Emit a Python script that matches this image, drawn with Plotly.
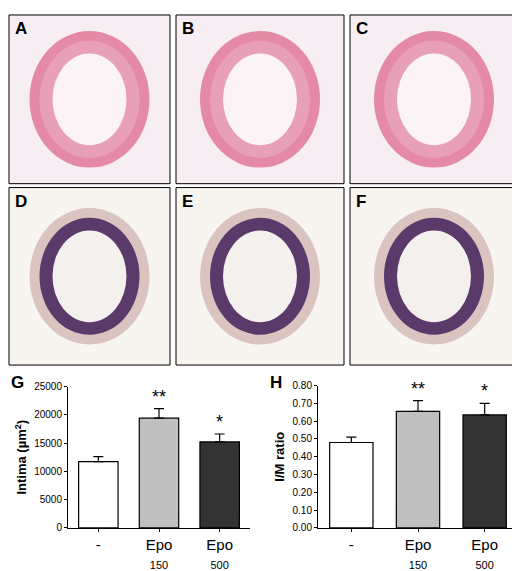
import plotly.graph_objects as go

# the browser page adds an 8px body margin, so draw into a slightly smaller figure
OFF = 8
W, H = 520 - OFF, 571 - OFF

groups = ["-", "Epo 150", "Epo 500"]
tick_labels = ["-", "Epo<br><span style='font-size:11px'>150</span>",
               "Epo<br><span style='font-size:11px'>500</span>"]
intima = [11700, 19400, 15200]
intima_err = [900, 1700, 1400]
im_ratio = [0.48, 0.655, 0.635]
im_err = [0.03, 0.06, 0.065]
stars = ["", "**", "*"]
colors = ["white", "#c0c0c0", "#333333"]

panels = ["A", "B", "C", "D", "E", "F"]


def px(x):
    return (x - OFF) / W


def py(y):
    return 1 - (y - OFF) / H


fig = go.Figure()

fig.add_trace(go.Bar(
    x=groups, y=intima, marker=dict(color=colors, line=dict(color="black", width=1.2)),
    width=0.65, error_y=dict(type="data", symmetric=False, array=intima_err,
                             arrayminus=[0, 0, 0], color="black", thickness=1.2, width=5),
    xaxis="x", yaxis="y", showlegend=False))
fig.add_trace(go.Bar(
    x=groups, y=im_ratio, marker=dict(color=colors, line=dict(color="black", width=1.2)),
    width=0.65, error_y=dict(type="data", symmetric=False, array=im_err,
                             arrayminus=[0, 0, 0], color="black", thickness=1.2, width=5),
    xaxis="x2", yaxis="y2", showlegend=False))

for g, v, e, s in zip(groups, intima, intima_err, stars):
    if s:
        fig.add_annotation(x=g, y=v + e, text=s, showarrow=False, yanchor="bottom",
                           xref="x", yref="y", font=dict(size=18, color="black"))
for g, v, e, s in zip(groups, im_ratio, im_err, stars):
    if s:
        fig.add_annotation(x=g, y=v + e, text=s, showarrow=False, yanchor="bottom",
                           xref="x2", yref="y2", font=dict(size=18, color="black"))

axis_common = dict(showgrid=False, zeroline=False, showline=True, linecolor="black",
                   ticks="outside", ticklen=3, tickcolor="black")
fig.update_layout(
    width=W, height=H, margin=dict(l=0, r=0, t=0, b=0),
    plot_bgcolor="white", paper_bgcolor="white",
    font=dict(family="Arial, Liberation Sans", color="black"),
    xaxis=dict(domain=[px(68), px(250)], anchor="y", tickvals=groups, ticktext=tick_labels,
               tickfont=dict(size=15), **axis_common),
    yaxis=dict(domain=[py(535), py(390)], anchor="x", range=[0, 25000], dtick=5000,
               tickformat="d", tickfont=dict(size=10),
               title=dict(text="<b>Intima (µm<sup>2</sup>)</b>", font=dict(size=13), standoff=4),
               **axis_common),
    xaxis2=dict(domain=[px(318), px(518)], anchor="y2", tickvals=groups, ticktext=tick_labels,
                tickfont=dict(size=15), **axis_common),
    yaxis2=dict(domain=[py(535), py(389)], anchor="x2", range=[0, 0.8], dtick=0.1,
                tickformat=".2f", tickfont=dict(size=10),
                title=dict(text="<b>I/M ratio</b>", font=dict(size=13), standoff=4),
                **axis_common),
)

# micrograph panels, drawn as framed placeholders with stylised vessel rings
boxes = [(9, 9, 170, 182), (176, 9, 344, 182), (350, 9, 518, 182),
         (9, 186, 170, 368), (176, 186, 344, 368), (350, 186, 518, 368)]
for i, (name, (x0, y0, x1, y1)) in enumerate(zip(panels, boxes)):
    top = i < 3
    cx, cy = (x0 + x1) / 2, (y0 + y1) / 2
    fig.add_shape(type="rect", xref="paper", yref="paper", x0=px(x0), x1=px(x1),
                  y0=py(y1), y1=py(y0), line=dict(color="black", width=1),
                  fillcolor="#f6eef2" if top else "#f8f4f0")
    ring = [(60, 70, "#e58aa6" if top else "#d9c4c0"),
            (50, 60, "#e8a0b8" if top else "#5a3a6a"),
            (37, 47, "#fbf3f6" if top else "#f4f0ee")]
    for rx, ry, col in ring:
        fig.add_shape(type="circle", xref="paper", yref="paper",
                      x0=px(cx - rx), x1=px(cx + rx), y0=py(cy + ry), y1=py(cy - ry),
                      line=dict(width=0), fillcolor=col)
    fig.add_annotation(x=px(x0 + 4), y=py(y0 + 2), xref="paper", yref="paper", text=f"<b>{name}</b>",
                       showarrow=False, xanchor="left", yanchor="top", font=dict(size=17))

fig.add_annotation(x=px(9), y=py(374), xref="paper", yref="paper", text="<b>G</b>",
                   showarrow=False, xanchor="left", yanchor="top", font=dict(size=17))
fig.add_annotation(x=px(268), y=py(374), xref="paper", yref="paper", text="<b>H</b>",
                   showarrow=False, xanchor="left", yanchor="top", font=dict(size=17))

fig.write_html("out.html")
